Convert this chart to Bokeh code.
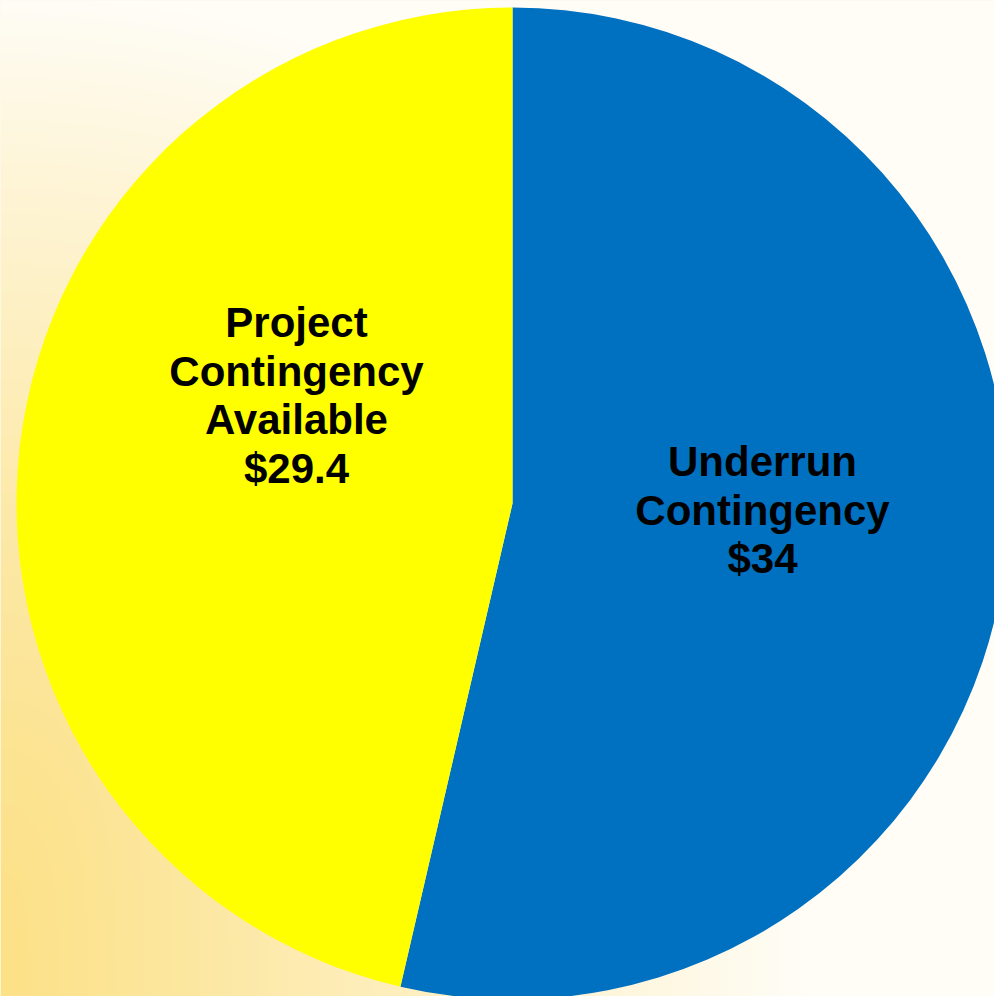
import numpy as np
from bokeh.plotting import figure
from bokeh.models import Range1d, ColumnDataSource
from bokeh.core.properties import value
from bokeh.embed import file_html
from bokeh.resources import INLINE

# ---- data ----
categories = ["Underrun Contingency", "Project Contingency Available"]
label_lines = [["Underrun", "Contingency"], ["Project", "Contingency", "Available"]]
values = [34, 29.4]
colors = ["#0070C0", "#FFFF00"]

# ---- layout (screen px of the 994x996 picture) ----
W, H = 994, 996
cx, cy, R = 512, H - 503, 496
label_anchor = [(762, 461), (296, 322)]  # (center x, first baseline y) in screen px
line_step = 48.5

p = figure(width=W, height=H, x_range=Range1d(0, W), y_range=Range1d(0, H),
           output_backend="svg", toolbar_location=None, min_border=0)
p.axis.visible = False
p.grid.visible = False
p.outline_line_color = None
p.background_fill_color = "#FFF6DC"
p.border_fill_color = "#FFF6DC"

# ---- background gradient (style only) ----
nx, ny = W // 2, H // 2
sx = np.linspace(0, W, nx)
dy = np.linspace(0, H, ny)   # data y, row 0 at bottom
sy = H - dy
X, Y = np.meshgrid(sx, sy)
fx = X / 800.0
fy = np.clip((H - Y) / 1000.0, 0, None) ** 1.6
f = np.clip(np.sqrt(fx ** 2 + fy ** 2), 0, 1)
c0 = np.array([252, 225, 135], dtype=float)
c1 = np.array([255, 253, 246], dtype=float)
rgb = c0[None, None, :] + (c1 - c0)[None, None, :] * f[:, :, None]
img = np.empty((ny, nx), dtype=np.uint32)
view = img.view(dtype=np.uint8).reshape((ny, nx, 4))
view[:, :, 0] = rgb[:, :, 0].astype(np.uint8)
view[:, :, 1] = rgb[:, :, 1].astype(np.uint8)
view[:, :, 2] = rgb[:, :, 2].astype(np.uint8)
view[:, :, 3] = 255
p.image_rgba(image=[img], x=0, y=0, dw=W, dh=H)

# ---- pie ----
total = float(sum(values))
fr = np.array(values, dtype=float) / total
cum = np.concatenate([[0.0], np.cumsum(fr)[:-1]])
start = np.pi / 2 - cum * 2 * np.pi
end = start - fr * 2 * np.pi
src = ColumnDataSource(dict(x=[cx] * len(values), y=[cy] * len(values),
                            start=list(end), end=list(start), color=colors, cat=categories))
p.wedge(x="x", y="y", radius=R, start_angle="start", end_angle="end", direction="anticlock",
        fill_color="color", line_color=None, source=src)

# ---- labels ----
tx, ty, tt = [], [], []
for (ax, ay), lines, v in zip(label_anchor, label_lines, values):
    all_lines = list(lines) + [f"${v:g}"]
    for i, s in enumerate(all_lines):
        tx.append(ax)
        ty.append(H - (ay + i * line_step))
        tt.append(s)
p.text(x=tx, y=ty, text=tt, text_font=value("Liberation Sans"), text_font_style="bold",
       text_font_size="42px", text_align="center", text_baseline="alphabetic", text_color="black")

open("out.html", "w").write(file_html(p, INLINE))
